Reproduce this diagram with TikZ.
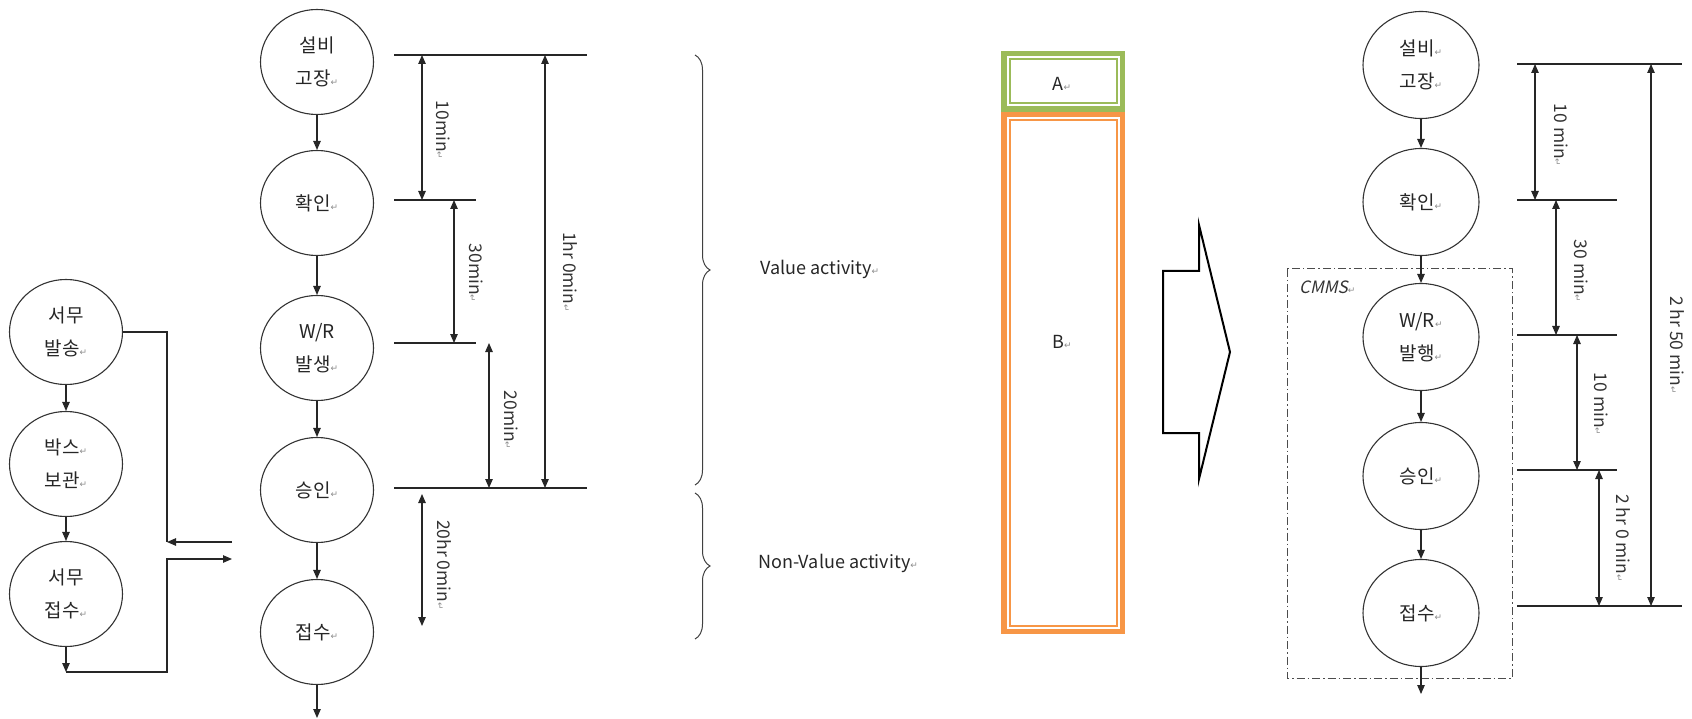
\documentclass[tikz,border=0pt]{standalone}
\usepackage{fontspec}
\setmainfont{Noto Sans CJK KR}
\newfontfamily\djv{DejaVu Sans}
\newfontfamily\slantfont[FakeSlant=0.22]{Noto Sans CJK KR}
\usetikzlibrary{arrows.meta,shapes.geometric,decorations.pathreplacing}
\definecolor{ogreen}{HTML}{9BBB59}
\definecolor{oorange}{HTML}{F79646}
\newcommand\rmk{{\djv\fontsize{9}{9}\selectfont\textcolor{black!45}{↵}}}
\begin{document}
\begin{tikzpicture}[x=1pt,y=-1pt,
  proc/.style={ellipse, draw=black!80, line width=1.1pt, minimum width=113pt, minimum height=105pt,
    inner sep=0pt, align=center, text=black!85, font=\fontsize{19}{33}\selectfont},
  rproc/.style={proc, minimum width=116pt, minimum height=107pt},
  flow/.style={draw=black!85, line width=1.1pt, -{Triangle[length=9pt,width=7.5pt]}},
  plain/.style={draw=black!85, line width=1.1pt},
  dim/.style={draw=black!85, line width=1.1pt, {Triangle[length=9pt,width=7.5pt]}-{Triangle[length=9pt,width=7.5pt]}},
  dimlab/.style={rotate=-90, inner sep=0pt, text=black!80, font=\fontsize{17.5}{17.5}\selectfont},
  txt/.style={inner sep=0pt, text=black!85, font=\fontsize{18}{18}\selectfont}]
\useasboundingbox (0,0) rectangle (1692,719);

% ---------- left small column ----------
\node[proc] (s1) at (66,332) {서무\\발송\rmk};
\node[proc] (s2) at (66,464) {박스\rmk\\보관\rmk};
\node[proc] (s3) at (66,594) {서무\\접수\rmk};
\draw[flow] (s1) -- (s2);
\draw[flow] (s2) -- (s3);
\coordinate (s3b) at (66,672);
\coordinate (j1) at (167,542);
\coordinate (j2) at (167,559);
\coordinate (in1) at (232,542);
\coordinate (out1) at (232,559);
\draw[flow] (s3) -- (s3b);
\draw[flow] (s3b) -| (j2) -- (out1);
\draw[plain] (s1.east) -| (j1);
\draw[flow] (in1) -- (j1);

% ---------- left main column ----------
\node[proc] (c1) at (317,62) {설비\\고장\rmk};
\node[proc] (c2) at (317,203) {확인\rmk};
\node[proc] (c3) at (317,348) {W/R\\발생\rmk};
\node[proc] (c4) at (317,490) {승인\rmk};
\node[proc] (c5) at (317,632) {접수\rmk};
\coordinate (cend) at (317,718);
\draw[flow] (c1) -- (c2);
\draw[flow] (c2) -- (c3);
\draw[flow] (c3) -- (c4);
\draw[flow] (c4) -- (c5);
\draw[flow] (c5) -- (cend);

% dimension lines left
\coordinate (la1) at (394,55);  \coordinate (la2) at (587,55);
\coordinate (lb1) at (394,200); \coordinate (lb2) at (476,200);
\coordinate (lc1) at (394,343); \coordinate (lc2) at (476,343);
\coordinate (ld1) at (394,488); \coordinate (ld2) at (587,488);
\draw[plain] (la1) -- (la2);
\draw[plain] (lb1) -- (lb2);
\draw[plain] (lc1) -- (lc2);
\draw[plain] (ld1) -- (ld2);
\coordinate (d1a) at (422,55);  \coordinate (d1b) at (422,200);
\coordinate (d2a) at (454,200); \coordinate (d2b) at (454,343);
\coordinate (d3a) at (489,343); \coordinate (d3b) at (489,488);
\coordinate (d4a) at (545,55);  \coordinate (d4b) at (545,488);
\coordinate (d5a) at (422,494); \coordinate (d5b) at (422,626);
\draw[dim] (d1a) -- (d1b);
\draw[dim] (d2a) -- (d2b);
\draw[dim] (d3a) -- (d3b);
\draw[dim] (d4a) -- (d4b);
\draw[dim] (d5a) -- (d5b);
\node[dimlab] (t1) at (443,130) {10min\rmk};
\node[dimlab] (t2) at (476,273) {30min\rmk};
\node[dimlab] (t3) at (511,420) {20min\rmk};
\node[dimlab] (t4) at (570,272) {1hr 0min\rmk};
\node[dimlab] (t5) at (444,565) {20hr 0min\rmk};

% ---------- braces ----------
\coordinate (b1a) at (695,55);  \coordinate (b1b) at (695,485);
\coordinate (b2a) at (695,493); \coordinate (b2b) at (695,639);
\draw[black!75, line width=1pt, decorate, decoration={brace, amplitude=15pt}] (b1a) -- (b1b);
\draw[black!75, line width=1pt, decorate, decoration={brace, amplitude=15pt}] (b2a) -- (b2b);
\node[txt, anchor=west] (va) at (760,269) {Value activity\rmk};
\node[txt, anchor=west] (nva) at (758,563) {Non-Value activity\rmk};

% ---------- A / B bar ----------
\fill[ogreen] (1001,51) rectangle (1125,112);
\fill[white] (1006.5,56.5) rectangle (1119.5,106.5);
\draw[ogreen, line width=2pt] (1009.5,59.5) rectangle (1116.5,103.5);
\fill[oorange] (1001,112) rectangle (1125,634);
\fill[white] (1006.5,117.5) rectangle (1119.5,628.5);
\draw[oorange, line width=2pt] (1009.5,120.5) rectangle (1116.5,625.5);
\node[txt] (A) at (1062,84) {A\rmk};
\node[txt] (B) at (1062,342) {B\rmk};

% ---------- big hollow arrow ----------
\draw[black, line width=2pt, line join=miter]
  (1163,271) -- (1199,271) -- (1199,225) -- (1230,352) -- (1199,479) -- (1199,433) -- (1163,433) -- cycle;

% ---------- right column ----------
\draw[black!70, line width=1pt, dash pattern=on 8pt off 3pt on 1.5pt off 3pt] (1287,269) rectangle (1512,678);
\node[anchor=west, inner sep=0pt, text=black!80, font=\fontsize{17}{17}\slantfont] (cm) at (1299,287) {CMMS\rmk};
\node[rproc] (r1) at (1421,65) {설비\rmk\\고장\rmk};
\node[rproc] (r2) at (1421,202) {확인\rmk};
\node[rproc] (r3) at (1421,337) {W/R\rmk\\발행\rmk};
\node[rproc] (r4) at (1421,476) {승인\rmk};
\node[rproc] (r5) at (1421,613) {접수\rmk};
\coordinate (rend) at (1421,694);
\draw[flow] (r1) -- (r2);
\draw[flow] (r2) -- (r3);
\draw[flow] (r3) -- (r4);
\draw[flow] (r4) -- (r5);
\draw[flow] (r5) -- (rend);

% dimension lines right
\coordinate (ra1) at (1517,64);  \coordinate (ra2) at (1682,64);
\coordinate (rb1) at (1517,200); \coordinate (rb2) at (1617,200);
\coordinate (rc1) at (1517,335); \coordinate (rc2) at (1617,335);
\coordinate (rd1) at (1517,470); \coordinate (rd2) at (1617,470);
\coordinate (re1) at (1517,606); \coordinate (re2) at (1682,606);
\draw[plain] (ra1) -- (ra2);
\draw[plain] (rb1) -- (rb2);
\draw[plain] (rc1) -- (rc2);
\draw[plain] (rd1) -- (rd2);
\draw[plain] (re1) -- (re2);
\coordinate (e1a) at (1535,64);  \coordinate (e1b) at (1535,200);
\coordinate (e2a) at (1556,200); \coordinate (e2b) at (1556,335);
\coordinate (e3a) at (1577,335); \coordinate (e3b) at (1577,470);
\coordinate (e4a) at (1599,470); \coordinate (e4b) at (1599,606);
\coordinate (e5a) at (1651,64);  \coordinate (e5b) at (1651,606);
\draw[dim] (e1a) -- (e1b);
\draw[dim] (e2a) -- (e2b);
\draw[dim] (e3a) -- (e3b);
\draw[dim] (e4a) -- (e4b);
\draw[dim] (e5a) -- (e5b);
\node[dimlab] (u1) at (1561,135) {10 min\rmk};
\node[dimlab] (u2) at (1581,271) {30 min\rmk};
\node[dimlab] (u3) at (1601,404) {10 min\rmk};
\node[dimlab] (u4) at (1623,538) {2 hr 0 min\rmk};
\node[dimlab] (u5) at (1677,345) {2 hr 50 min\rmk};
\end{tikzpicture}
\end{document}
